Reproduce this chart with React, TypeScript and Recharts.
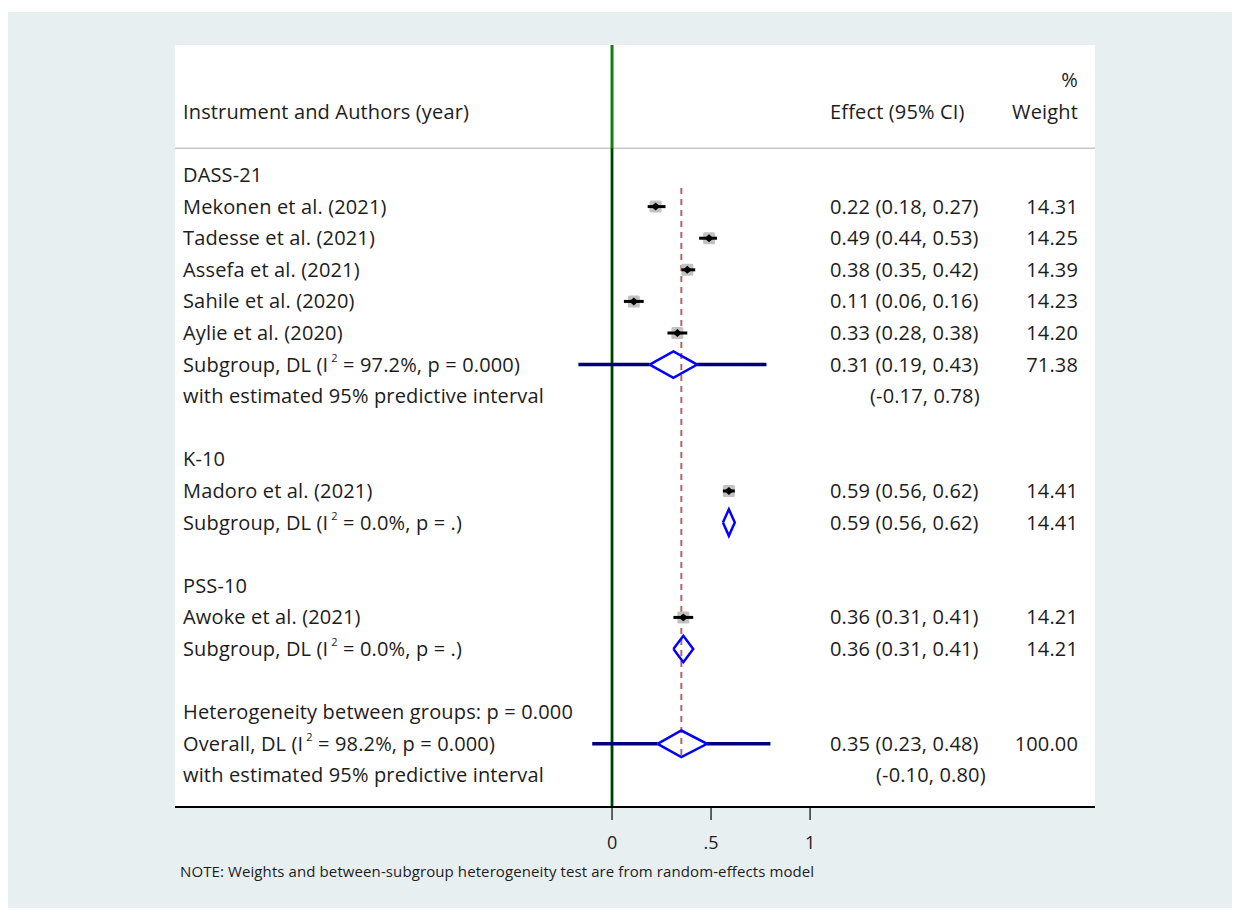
import { CartesianGrid, ReferenceLine, Scatter, ScatterChart, XAxis, YAxis } from "recharts";

// rows are counted downwards from the first group heading
const groupNames = ["DASS-21", "K-10", "PSS-10"];
const groupRows = [0, 9, 13];

const studyNames = [
    "Mekonen et al. (2021)",
    "Tadesse et al. (2021)",
    "Assefa et al. (2021)",
    "Sahile et al. (2020)",
    "Aylie et al. (2020)",
    "Madoro et al. (2021)",
    "Awoke et al. (2021)",
];
const studyRows = [1, 2, 3, 4, 5, 10, 14];
const studyEffect = [0.22, 0.49, 0.38, 0.11, 0.33, 0.59, 0.36];
const studyLower = [0.18, 0.44, 0.35, 0.06, 0.28, 0.56, 0.31];
const studyUpper = [0.27, 0.53, 0.42, 0.16, 0.38, 0.62, 0.41];
const studyWeight = [14.31, 14.25, 14.39, 14.23, 14.2, 14.41, 14.21];

const subgroupRows = [6, 11, 15];
const subgroupEffect = [0.31, 0.59, 0.36];
const subgroupLower = [0.19, 0.56, 0.31];
const subgroupUpper = [0.43, 0.62, 0.41];
const subgroupWeight = [71.38, 14.41, 14.21];
const subgroupI2 = ["97.2%", "0.0%", "0.0%"];
const subgroupP = ["0.000", ".", "."];
const subgroupPredLower: (number | null)[] = [-0.17, null, null];
const subgroupPredUpper: (number | null)[] = [0.78, null, null];

const heterogeneityRow = 17;
const heterogeneityP = "0.000";

const overallRow = 18;
const overallEffect = 0.35;
const overallLower = 0.23;
const overallUpper = 0.48;
const overallWeight = 100.0;
const overallI2 = "98.2%";
const overallP = "0.000";
const overallPredLower = -0.1;
const overallPredUpper = 0.8;

const xTicks = [0, 0.5, 1];
const xTickLabels = ["0", ".5", "1"];

const FONT = "'Open Sans', 'Noto Sans', sans-serif";
const HALF = 0.42; // diamond half height, in rows

const fmt = (e: number, l: number, u: number) => `${e.toFixed(2)} (${l.toFixed(2)}, ${u.toFixed(2)})`;

type TextRow = {
    x: number;
    y: number;
    label?: string;
    i2?: string;
    p?: string;
    effect?: string;
    weight?: string;
    pi?: string;
    piX?: number;
};

const textRows: TextRow[] = [
    { x: 0, y: -3, weight: "%" },
    { x: 0, y: -2, label: "Instrument and Authors (year)", effect: "Effect (95% CI)", weight: "Weight" },
];
groupNames.forEach((g, i) => textRows.push({ x: 0, y: groupRows[i], label: g }));
studyNames.forEach((s, i) =>
    textRows.push({
        x: 0,
        y: studyRows[i],
        label: s,
        effect: fmt(studyEffect[i], studyLower[i], studyUpper[i]),
        weight: studyWeight[i].toFixed(2),
    })
);
subgroupRows.forEach((r, i) => {
    textRows.push({
        x: 0,
        y: r,
        label: "Subgroup, DL (I",
        i2: subgroupI2[i],
        p: subgroupP[i],
        effect: fmt(subgroupEffect[i], subgroupLower[i], subgroupUpper[i]),
        weight: subgroupWeight[i].toFixed(2),
    });
    const pl = subgroupPredLower[i];
    const pu = subgroupPredUpper[i];
    if (pl !== null && pu !== null) {
        textRows.push({
            x: 0,
            y: r + 1,
            label: "with estimated 95% predictive interval",
            pi: `(${pl.toFixed(2)}, ${pu.toFixed(2)})`,
            piX: 870,
        });
    }
});
textRows.push({ x: 0, y: heterogeneityRow, label: `Heterogeneity between groups: p = ${heterogeneityP}` });
textRows.push({
    x: 0,
    y: overallRow,
    label: "Overall, DL (I",
    i2: overallI2,
    p: overallP,
    effect: fmt(overallEffect, overallLower, overallUpper),
    weight: overallWeight.toFixed(2),
});
textRows.push({
    x: 0,
    y: overallRow + 1,
    label: "with estimated 95% predictive interval",
    pi: `(${overallPredLower.toFixed(2)}, ${overallPredUpper.toFixed(2)})`,
    piX: 876,
});

const studyPoints = studyRows.map((r, i) => ({ x: studyEffect[i], y: r }));

const diamonds = [
    ...subgroupRows.map((r, i) => ({ row: r, lo: subgroupLower[i], est: subgroupEffect[i], hi: subgroupUpper[i] })),
    { row: overallRow, lo: overallLower, est: overallEffect, hi: overallUpper },
];

const predSegments: { x: number; y: number }[][] = [];
subgroupRows.forEach((r, i) => {
    const pl = subgroupPredLower[i];
    const pu = subgroupPredUpper[i];
    if (pl !== null && pu !== null) {
        predSegments.push([{ x: pl, y: r }, { x: subgroupLower[i], y: r }]);
        predSegments.push([{ x: subgroupUpper[i], y: r }, { x: pu, y: r }]);
    }
});
predSegments.push([{ x: overallPredLower, y: overallRow }, { x: overallLower, y: overallRow }]);
predSegments.push([{ x: overallUpper, y: overallRow }, { x: overallPredUpper, y: overallRow }]);

const Empty = () => <g />;

function TextShape(props: any) {
    const { cy, payload } = props;
    const t = payload as TextRow;
    return (
        <g fontFamily={FONT} fontSize={20} letterSpacing={0.15} fill="#1c1c1c">
            {t.label && (
                <text x={183} y={cy} dy="0.35em">
                    {t.i2 ? (
                        <>
                            <tspan>{t.label}</tspan>
                            <tspan dx={3} dy={-10} fontSize={11}>2</tspan>
                            <tspan dy={10}>{` = ${t.i2}, p = ${t.p})`}</tspan>
                        </>
                    ) : (
                        t.label
                    )}
                </text>
            )}
            {t.effect && (
                <text x={830} y={cy} dy="0.35em">
                    {t.effect}
                </text>
            )}
            {t.pi && (
                <text x={t.piX} y={cy} dy="0.35em">
                    {t.pi}
                </text>
            )}
            {t.weight && (
                <text x={1078} y={cy} dy="0.35em" textAnchor="end">
                    {t.weight}
                </text>
            )}
        </g>
    );
}

function BoxShape(props: any) {
    const { cx, cy } = props;
    return <rect x={cx - 6} y={cy - 6} width={12} height={12} fill="#c2c2c2" rx={1.5} />;
}

function DotShape(props: any) {
    const { cx, cy } = props;
    return <path d={`M${cx - 4.5},${cy} L${cx},${cy - 4} L${cx + 4.5},${cy} L${cx},${cy + 4} Z`} fill="#000" />;
}

function App() {
    return (
        <div style={{ position: "absolute", left: 0, top: 0, width: 1240, height: 910, background: "#ffffff" }}>
            <div style={{ position: "absolute", left: 8, top: 12, width: 1224, height: 896, background: "#e8eff1" }} />
            <div style={{ position: "absolute", left: 0, top: 0 }}>
                <ScatterChart width={1240} height={910} margin={{ top: 45, right: 145, bottom: 43, left: 175 }}>
                    <CartesianGrid horizontal={false} vertical={false} fill="#ffffff" fillOpacity={1} />
                    <XAxis
                        type="number"
                        dataKey="x"
                        domain={[-2.207, 2.439]}
                        allowDataOverflow
                        ticks={xTicks}
                        tickFormatter={(v: number) => xTickLabels[xTicks.indexOf(v)] ?? String(v)}
                        height={60}
                        tickSize={13}
                        tickMargin={16}
                        axisLine={{ stroke: "#000", strokeWidth: 2 }}
                        tickLine={{ stroke: "#000", strokeWidth: 1.2 }}
                        tick={{ fontFamily: FONT, fontSize: 18, fill: "#1c1c1c" }}
                    />
                    <YAxis type="number" dataKey="y" domain={[-4.114, 20]} reversed hide allowDataOverflow />

                    <ReferenceLine
                        y={-0.85}
                        stroke="#c8c8c8"
                        strokeWidth={1.5}
                    />

                    <Scatter data={studyPoints} shape={BoxShape} isAnimationActive={false} />
                    {studyRows.map((r, i) => (
                        <Scatter
                            key={"ci" + i}
                            data={[{ x: studyLower[i], y: r }, { x: studyUpper[i], y: r }]}
                            line={{ stroke: "#000", strokeWidth: 3 }}
                            shape={Empty}
                            isAnimationActive={false}
                        />
                    ))}
                    <Scatter data={studyPoints} shape={DotShape} isAnimationActive={false} />

                    {predSegments.map((seg, i) => (
                        <Scatter
                            key={"pi" + i}
                            data={seg}
                            line={{ stroke: "#00007a", strokeWidth: 3.5 }}
                            shape={Empty}
                            isAnimationActive={false}
                        />
                    ))}
                    {diamonds.map((d, i) => (
                        <Scatter
                            key={"dm" + i}
                            data={[
                                { x: d.lo, y: d.row },
                                { x: d.est, y: d.row - HALF },
                                { x: d.hi, y: d.row },
                                { x: d.est, y: d.row + HALF },
                                { x: d.lo, y: d.row },
                            ]}
                            line={{ stroke: "#0000ff", strokeWidth: 2.5, strokeLinejoin: "miter" }}
                            shape={Empty}
                            isAnimationActive={false}
                        />
                    ))}

                    <ReferenceLine
                        segment={[{ x: overallEffect, y: 0.41 }, { x: overallEffect, y: overallRow + HALF }]}
                        stroke="#b0666c"
                        strokeWidth={2}
                        strokeDasharray="6 5"
                    />
                    <ReferenceLine x={0} stroke="#108010" strokeWidth={3} />
                    <ReferenceLine
                        segment={[{ x: 0, y: -0.85 }, { x: 0, y: 20 }]}
                        stroke="#002a00"
                        strokeWidth={1.5}
                    />

                    <Scatter data={textRows} shape={TextShape} isAnimationActive={false} />
                </ScatterChart>
            </div>
            <div
                style={{
                    position: "absolute",
                    left: 180,
                    top: 862,
                    fontFamily: FONT,
                    fontSize: 15,
                    letterSpacing: 0.1,
                    lineHeight: "18px",
                    color: "#1c1c1c",
                    whiteSpace: "nowrap",
                }}
            >
                NOTE: Weights and between-subgroup heterogeneity test are from random-effects model
            </div>
        </div>
    );
}

export default App;
